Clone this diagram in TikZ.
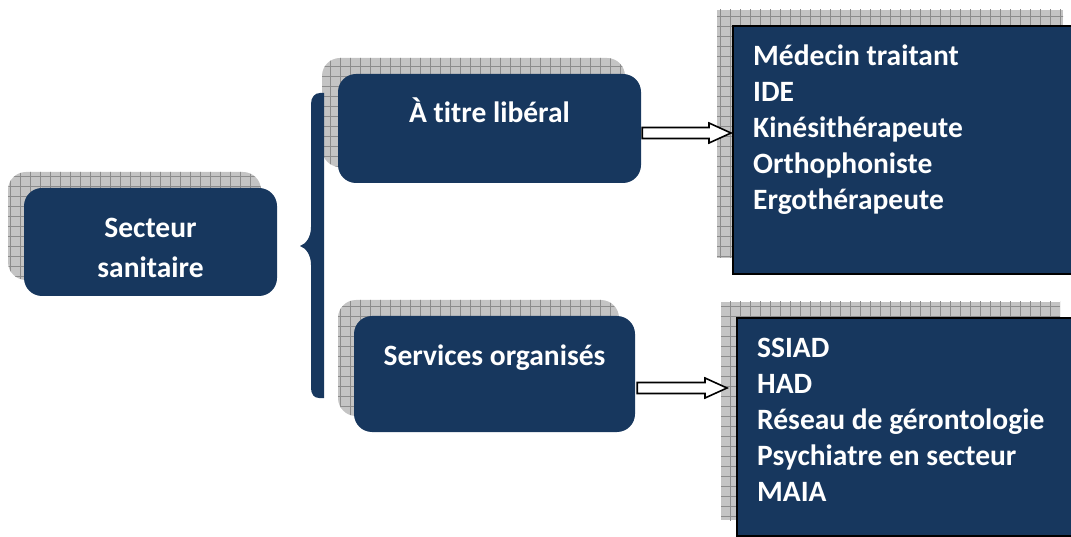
\documentclass[tikz,border=0pt]{standalone}
\usepackage{fontspec}
\setmainfont{Carlito}[Ligatures=NoCommon]
\usetikzlibrary{positioning}
\usetikzlibrary{shadows}
\usetikzlibrary{patterns.meta}
\usetikzlibrary{calc}

\definecolor{boxblue}{RGB}{23,55,94}
\definecolor{shadowgray}{RGB}{196,196,196}
\definecolor{gridgray}{RGB}{140,140,140}

% hollow block arrow, y taken from the start point
\newcommand{\blockarrow}[2]{%
	\draw[block arrow] let \p1=(#1), \p2=(#2) in
	(\x1,\y1+5.5pt) -- (\x2-22pt,\y1+5.5pt) -- (\x2-22pt,\y1+10pt) -- (\x2,\y1)
	-- (\x2-22pt,\y1-10pt) -- (\x2-22pt,\y1-5.5pt) -- (\x1,\y1-5.5pt) -- cycle;}

\begin{document}
\begin{tikzpicture}[x=1pt,y=1pt,
	grid shadow/.style={general shadow={shadow xshift=-16pt,shadow yshift=16pt,
		fill=shadowgray,postaction={pattern={Hatch[angle=0,distance=10pt,line width=0.6pt]},pattern color=gridgray}}},
	round box/.style={rectangle,rounded corners=18pt,fill=boxblue,draw=none,grid shadow},
	list box/.style={rectangle,fill=boxblue,draw=black,line width=2pt,grid shadow},
	box label/.style={text=white,font=\bfseries\fontsize{29.5}{40}\selectfont,inner sep=0pt,align=center},
	list text/.style={text=white,font=\bfseries\fontsize{29.5}{36}\selectfont,align=left,inner sep=0pt},
	block arrow/.style={draw=black,line width=1.6pt,fill=white,line join=miter}]

	\useasboundingbox (0,0) rectangle (1071,536);

	\node[round box,minimum width=253pt,minimum height=108pt] (sect) at (150.5,294) {};
	\node[round box,minimum width=303pt,minimum height=109pt] (lib) at (489.5,407.5) {};
	\node[round box,minimum width=281pt,minimum height=116pt] (serv) at (494.5,162) {};
	\node[list box,minimum width=346pt,minimum height=248pt] (prof) at (906,386) {};
	\node[list box,minimum width=339pt,minimum height=218pt] (svc) at (906.5,109) {};

	\node[box label] (secttext) at ($(sect.center)+(0,-6)$) {Secteur\\sanitaire};
	\node[box label] (libtext) [below=49pt of lib.north,anchor=base] {À titre libéral};
	\node[box label] (servtext) [below=50pt of serv.north,anchor=base] {Services organisés};

	\node[list text] (proftext) [below right=20pt and 21pt of prof.north west]
		{Médecin traitant\\IDE\\Kinésithérapeute\\Orthophoniste\\Ergothérapeute};
	\node[list text] (svctext) [below right=21pt and 21pt of svc.north west]
		{SSIAD\\HAD\\Réseau de gérontologie\\Psychiatre en secteur\\MAIA};

	% curly brace
	\fill[boxblue] (324,443) -- (324,138) -- (319,138)
		.. controls (314,138) and (311,142) .. (311,148) -- (311,271)
		.. controls (311,281) and (306,288) .. (300,290)
		.. controls (306,292) and (311,299) .. (311,309) -- (311,432)
		.. controls (311,439) and (315,443) .. (320,443) -- cycle;

	\coordinate (libout) at ($(lib.east)+(1,-4.5)$);
	\coordinate (profin) at ($(prof.west)+(-1,0)$);
	\coordinate (servout) at ($(serv.east)+(2,-14)$);
	\coordinate (svcin) at ($(svc.west)+(-9,0)$);
	\blockarrow{libout}{profin}
	\blockarrow{servout}{svcin}
\end{tikzpicture}
\end{document}
